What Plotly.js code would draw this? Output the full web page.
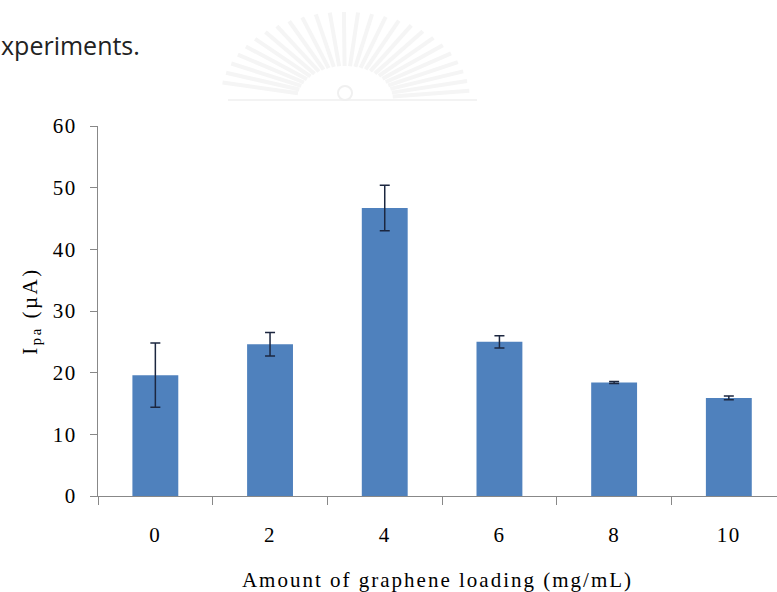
<!DOCTYPE html>
<html>
<head>
<meta charset="utf-8">
<script src="https://cdn.plot.ly/plotly-3.0.1.min.js"></script>
<style>
  html, body { margin: 0; padding: 0; background: #fff; overflow: hidden; }
  #chart { width: 777px; height: 592px; }
  /* wide, Excel-like lettering for the axis captions */
  #chart .xtitle { letter-spacing: 2px; }
  #chart .ytitle { letter-spacing: 2.5px; }
  #chart .xtick text, #chart .ytick text { letter-spacing: 1.5px; }
</style>
</head>
<body>
<div id="chart"></div>
<script>
// Anodic peak current vs. graphene loading
const loadings = ['0', '2', '4', '6', '8', '10'];          // mg/mL
const peakCurrent = [19.6, 24.6, 46.7, 25.0, 18.4, 15.9];  // µA
const peakError = [5.2, 1.9, 3.7, 1.0, 0.15, 0.3];         // µA
const yTicks = [0, 10, 20, 30, 40, 50, 60];

const W = 777, H = 592;
const M = { l: 98, r: 0, t: 126, b: 96 };

// pixel -> paper helpers for decorative shapes and captions
const px = x => (x - M.l) / (W - M.l - M.r);
const py = y => (H - M.b - y) / (H - M.t - M.b);

// faint seal watermark behind the page header
const shapes = [];
const cx = 345, cy = 100;
for (let a = 6; a <= 174; a += 6.5) {
  const r = a * Math.PI / 180;
  shapes.push({
    type: 'line', xref: 'paper', yref: 'paper', layer: 'below',
    x0: px(cx + 48 * Math.cos(r)), y0: py(cy - 34 * Math.sin(r)),
    x1: px(cx + 125 * Math.cos(r)), y1: py(cy - 88 * Math.sin(r)),
    line: { color: '#f5f5f5', width: 4 }
  });
}
shapes.push({
  type: 'line', xref: 'paper', yref: 'paper', layer: 'below',
  x0: px(228), y0: py(100), x1: px(477), y1: py(100),
  line: { color: '#f3f3f3', width: 2 }
});
shapes.push({
  type: 'circle', xref: 'paper', yref: 'paper', layer: 'below',
  x0: px(338), y0: py(86), x1: px(352), y1: py(100),
  line: { color: '#f0f0f0', width: 2 }
});

const trace = {
  type: 'bar',
  x: loadings,
  y: peakCurrent,
  marker: { color: '#4F81BD', line: { width: 0 } },
  error_y: {
    type: 'data', array: peakError, visible: true,
    color: '#1c2740', thickness: 1.5, width: 5
  },
  hoverinfo: 'x+y'
};

const serif = 'Liberation Serif, Times New Roman, serif';

const layout = {
  width: W, height: H,
  margin: M,
  paper_bgcolor: '#fff', plot_bgcolor: '#fff',
  showlegend: false,
  bargap: 0.6,
  font: { family: serif, size: 21, color: '#000' },
  xaxis: {
    type: 'category',
    range: [-0.5, 5.42],
    tickson: 'boundaries',
    ticks: 'outside', ticklen: 8, tickcolor: '#888', tickwidth: 1,
    showline: true, linecolor: '#888', linewidth: 1,
    showgrid: false, zeroline: false,
    ticklabelstandoff: 20,
    tickfont: { family: serif, size: 21, color: '#000' },
    title: {
      text: 'Amount of graphene loading (mg/mL)',
      font: { family: serif, size: 21, color: '#000' },
      standoff: 30
    },
    automargin: false, fixedrange: true
  },
  yaxis: {
    range: [0, 60],
    tickvals: yTicks,
    ticks: 'outside', ticklen: 7, tickcolor: '#888', tickwidth: 1,
    showline: true, linecolor: '#888', linewidth: 1,
    showgrid: false, zeroline: false,
    ticklabelstandoff: 9,
    tickfont: { family: serif, size: 21, color: '#000' },
    title: {
      text: 'I<sub>pa</sub> (µA)',
      font: { family: serif, size: 21, color: '#000' },
      standoff: 12
    },
    automargin: false, fixedrange: true
  },
  shapes: shapes,
  annotations: [{
    text: 'xperiments.',
    xref: 'paper', yref: 'paper',
    x: px(-1), y: py(45), xanchor: 'left', yanchor: 'middle',
    showarrow: false,
    font: { family: 'Open Sans, Noto Sans, sans-serif', size: 25, color: '#222' }
  }]
};

Plotly.newPlot('chart', [trace], layout, { displayModeBar: false, staticPlot: true });
</script>
</body>
</html>
